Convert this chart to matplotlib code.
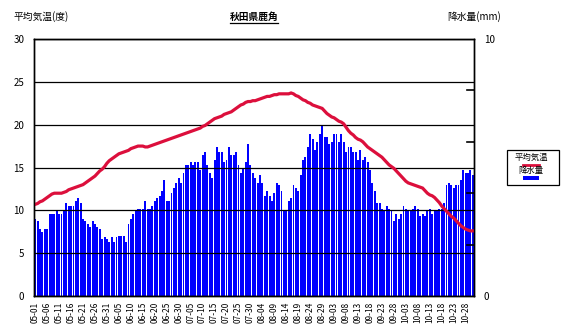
import matplotlib
matplotlib.use('Agg')
import matplotlib.pyplot as plt
from matplotlib.lines import Line2D
from matplotlib.patches import Rectangle
import numpy as np
import pandas as pd

plt.rcParams['font.family'] = ['Noto Sans CJK JP', 'DejaVu Sans']

TITLE = '秋田県鹿角'
LEFT_LABEL = '平均気温(度)'
RIGHT_LABEL = '降水量(mm)'

# daily dates 05-01 .. 10-31
dates = pd.date_range('2001-05-01', '2001-10-31', freq='D')
tick_every = 5

# mean temperature (deg C), one value per day
temp = [
    10.7, 10.8, 11.0, 11.1, 11.3, 11.5, 11.7, 11.9, 12.0, 12.0,
    12.0, 12.0, 12.1, 12.2, 12.4, 12.5, 12.6, 12.7, 12.8, 12.9,
    13.0, 13.2, 13.4, 13.6, 13.8, 14.0, 14.3, 14.6, 14.8, 15.1,
    15.5, 15.8, 16.0, 16.2, 16.4, 16.6, 16.7, 16.8, 16.9, 17.0,
    17.2, 17.3, 17.4, 17.5, 17.5, 17.5, 17.4, 17.4, 17.5, 17.6,
    17.7, 17.8, 17.9, 18.0, 18.1, 18.2, 18.3, 18.4, 18.5, 18.6,
    18.7, 18.8, 18.9, 19.0, 19.1, 19.2, 19.3, 19.4, 19.5, 19.6,
    19.8, 19.9, 20.1, 20.3, 20.5, 20.7, 20.8, 20.9, 21.0, 21.2,
    21.3, 21.4, 21.5, 21.7, 21.9, 22.1, 22.3, 22.4, 22.6, 22.7,
    22.7, 22.8, 22.8, 22.9, 23.0, 23.1, 23.2, 23.3, 23.3, 23.4,
    23.5, 23.5, 23.6, 23.6, 23.6, 23.6, 23.6, 23.7, 23.6, 23.4,
    23.3, 23.1, 22.9, 22.8, 22.6, 22.5, 22.3, 22.2, 22.1, 22.0,
    21.9, 21.6, 21.3, 21.1, 20.9, 20.8, 20.6, 20.4, 20.3, 20.1,
    19.7, 19.3, 19.0, 18.8, 18.5, 18.3, 18.2, 18.0, 17.7, 17.4,
    17.2, 17.0, 16.8, 16.6, 16.4, 16.2, 15.9, 15.6, 15.3, 15.1,
    14.9, 14.6, 14.3, 14.0, 13.7, 13.4, 13.2, 13.1, 13.0, 12.9,
    12.8, 12.7, 12.6, 12.3, 12.0, 11.8, 11.7, 11.5, 11.2, 10.9,
    10.5, 10.2, 9.9, 9.6, 9.3, 9.1, 8.8, 8.5, 8.2, 8.0,
    7.8, 7.7, 7.6, 7.6,
]

# precipitation (mm), one value per day
precip = [
    3.0, 2.9, 2.6, 2.5, 2.6, 2.6, 3.2, 3.2, 3.2, 3.3,
    3.2, 3.2, 3.3, 3.6, 3.5, 3.5, 3.5, 3.7, 3.8, 3.6,
    3.0, 2.9, 2.8, 2.7, 2.9, 2.8, 2.7, 2.6, 2.2, 2.3,
    2.2, 2.1, 2.3, 2.1, 2.3, 2.35, 2.35, 2.35, 2.1, 2.8,
    3.0, 3.2, 3.3, 3.4, 3.4, 3.4, 3.7, 3.4, 3.4, 3.5,
    3.7, 3.8, 3.9, 4.1, 4.5, 3.7, 3.7, 4.0, 4.2, 4.4,
    4.6,
    4.4, 4.8, 5.1, 5.1, 5.2, 5.1, 5.2, 5.2, 4.9, 5.5,
    5.6, 5.1, 4.8, 4.6, 5.3, 5.8, 5.6, 5.6, 5.2, 5.3,
    5.8, 5.5, 5.5, 5.6, 5.1, 4.8, 5.0, 5.2, 5.9, 5.1,
    4.8, 4.6, 4.4, 4.7, 4.4, 3.9, 4.1, 3.9, 3.7, 4.0,
    4.4, 4.3, 4.1, 3.3, 3.3, 3.7, 3.8, 4.3, 4.2, 4.1,
    4.7, 5.3, 5.4, 5.8, 6.3, 6.1, 5.7, 6.0, 6.3,
    6.6, 6.2, 6.2, 5.9, 6.0, 6.3, 6.3, 6.0, 6.3, 6.0,
    5.6, 5.8, 5.8, 5.6, 5.6, 5.3, 5.7, 5.3, 5.4, 5.2,
    4.9, 4.4, 4.1, 3.6, 3.6, 3.4, 3.3, 3.5, 3.4, 3.3,
    2.9, 3.2, 3.0, 3.2, 3.5, 3.4, 3.3, 3.3, 3.4, 3.5,
    3.4, 3.1, 3.2, 3.1, 3.3, 3.4, 3.2, 3.3, 3.3, 3.4,
    3.4, 3.6, 4.3, 4.4, 4.3, 4.2, 4.3, 4.3, 4.5, 4.9,
    4.8, 4.8, 4.9, 4.7,
]
right_marks = [2, 4, 6, 8]

TEMP_COLOR = '#dc0f3c'
BAR_COLOR = '#0000ff'
FS = 7

fig = plt.figure(figsize=(5.67, 3.34), dpi=100)
ax = fig.add_axes([34 / 567, 1 - 296 / 334, 440 / 567, 257 / 334])
ax2 = ax.twinx()

x = np.arange(len(dates))
ax2.bar(x, precip, width=0.8, color=BAR_COLOR, linewidth=0)
ax2.set_ylim(0, 10)
ax2.set_yticks([0, 10])
ax2.set_yticklabels(['0', '10'], fontsize=FS)
ax2.tick_params(axis='y', length=0, pad=7)
# short inward marks on the right axis
for v in right_marks:
    ax2.axhline(v, xmin=0.984, xmax=1.0, color='black', linewidth=1.2, zorder=5)

# temperature axis on top so the grid and line sit over the bars
ax.set_zorder(ax2.get_zorder() + 1)
ax.patch.set_visible(False)
ax.plot(x, temp, color=TEMP_COLOR, linewidth=2.3, solid_joinstyle='miter')
ax.set_ylim(0, 30)
ax.set_yticks(range(0, 31, 5))
ax.tick_params(axis='y', length=0, labelsize=FS, pad=7)
ax.grid(axis='y', color='black', linewidth=0.9)
ax.set_xlim(-0.5, len(dates) - 0.5)

ticks = x[::tick_every]
ax.set_xticks(ticks)
ax.set_xticklabels([d.strftime('%m-%d') for d in dates[::tick_every]],
                   rotation=90, fontsize=6)
ax.tick_params(axis='x', length=0, pad=4)
ax2.tick_params(axis='x', length=0)

for a in (ax, ax2):
    for s in a.spines.values():
        s.set_linewidth(1.0)
        s.set_color('black')

fig.text(13 / 567, 1 - 17 / 334, LEFT_LABEL, fontsize=FS, va='center', ha='left')
fig.text(447 / 567, 1 - 17 / 334, RIGHT_LABEL, fontsize=FS, va='center', ha='left')
title = fig.text(254 / 567, 1 - 17 / 334, TITLE, fontsize=FS, fontweight='bold',
                 va='center', ha='center')

# underline the title
fig.canvas.draw()
bb = title.get_window_extent().transformed(fig.transFigure.inverted())
fig.add_artist(Line2D([bb.x0, bb.x1], [bb.y0 - 0.004, bb.y0 - 0.004],
                      transform=fig.transFigure, color='black', linewidth=0.9))

# legend box: label above sample
fig.add_artist(Rectangle((507 / 567, 1 - 185 / 334), 52 / 567, 35 / 334,
                         transform=fig.transFigure, facecolor='white',
                         edgecolor='black', linewidth=0.9))
fig.text(531 / 567, 1 - 157 / 334, '平均気温', fontsize=6, ha='center', va='center')
fig.add_artist(Line2D([523 / 567, 539 / 567], [1 - 165 / 334, 1 - 165 / 334],
                      transform=fig.transFigure, color=TEMP_COLOR, linewidth=2))
fig.text(531 / 567, 1 - 171 / 334, '降水量', fontsize=6, ha='center', va='center')
fig.add_artist(Rectangle((523 / 567, 1 - 179.5 / 334), 16 / 567, 3.5 / 334,
                         transform=fig.transFigure, facecolor=BAR_COLOR,
                         edgecolor='none'))

fig.savefig('out.png', dpi=100)
plt.close(fig)
